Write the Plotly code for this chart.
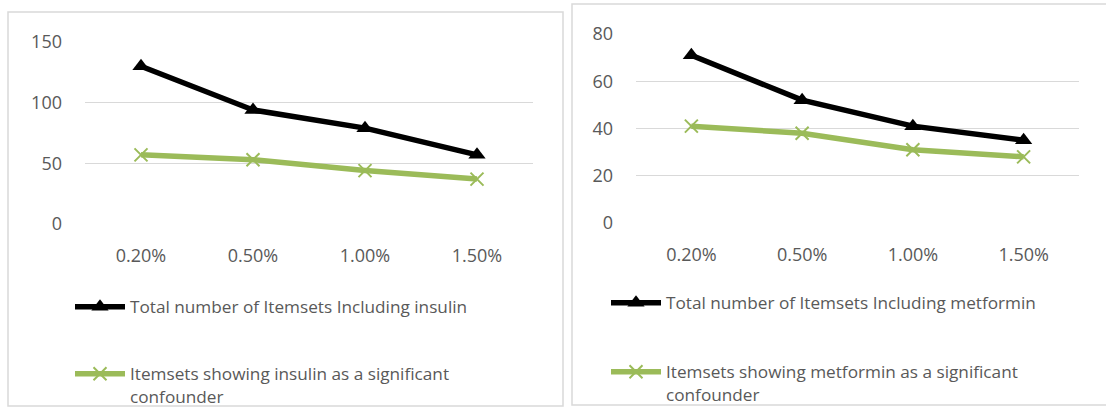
import plotly.graph_objects as go

categories = ["0.20%", "0.50%", "1.00%", "1.50%"]

insulin_total = [130, 94, 79, 57]
insulin_confounder = [57, 53, 44, 37]
metformin_total = [71, 52, 41, 35]
metformin_confounder = [41, 38, 31, 28]

left_names = ["Total number of Itemsets Including insulin",
              "Itemsets showing insulin as a significant<br>confounder"]
right_names = ["Total number of Itemsets Including metformin",
               "Itemsets showing metformin as a significant<br>confounder"]

W, H = 1106, 410
BLACK = "#000000"
GREEN = "#9BBB59"
GRID = "#D9D9D9"
TEXT = "#595959"
FONT = "Open Sans"

def px(x):
    return x / W

def py(y):
    return 1 - y / H

fig = go.Figure()

def add_pair(xaxis, yaxis, total, conf, names, lg1, lg2):
    fig.add_trace(go.Scatter(
        x=categories, y=total, name=names[0], mode="lines+markers",
        xaxis=xaxis, yaxis=yaxis, legend=lg1, cliponaxis=False,
        line=dict(color=BLACK, width=5.5),
        marker=dict(symbol="triangle-up", size=15, color=BLACK),
    ))
    fig.add_trace(go.Scatter(
        x=categories, y=conf, name=names[1], mode="lines+markers",
        xaxis=xaxis, yaxis=yaxis, legend=lg2, cliponaxis=False,
        line=dict(color=GREEN, width=5.5),
        marker=dict(symbol="x-thin", size=13, color=GREEN,
                    line=dict(color=GREEN, width=2)),
    ))

add_pair("x", "y", insulin_total, insulin_confounder, left_names, "legend", "legend2")
add_pair("x2", "y2", metformin_total, metformin_confounder, right_names, "legend3", "legend4")

axis_font = dict(family=FONT, size=18, color=TEXT)
xcommon = dict(type="category", range=[-0.5, 3.5], showgrid=False,
               zeroline=False, showline=False, ticks="", tickfont=axis_font,
               ticklabelstandoff=19, automargin=False)
ycommon = dict(showgrid=True, gridcolor=GRID, gridwidth=1.3, zeroline=False,
               showline=False, ticks="", tickfont=axis_font, ticklabelstandoff=22,
               automargin=False)

fig.update_layout(
    width=W, height=H, autosize=False,
    margin=dict(l=0, r=0, t=0, b=0, autoexpand=False),
    paper_bgcolor="white", plot_bgcolor="white",
    font=dict(family=FONT, color=TEXT),
    xaxis=dict(domain=[px(85), px(533)], anchor="y", **xcommon),
    yaxis=dict(domain=[py(224), py(42)], anchor="x", range=[0, 150],
               dtick=50, **ycommon),
    xaxis2=dict(domain=[px(636), px(1079)], anchor="y2", **xcommon),
    yaxis2=dict(domain=[py(223), py(34)], anchor="x2", range=[0, 80],
                dtick=20, **ycommon),
    showlegend=True,
)

leg_common = dict(font=dict(family=FONT, size=17.2, color=TEXT),
                  bgcolor="rgba(0,0,0,0)", borderwidth=0, itemwidth=50,
                  xanchor="left", yanchor="top", valign="top",
                  xref="container", yref="container",
                  orientation="v", itemclick=False, itemdoubleclick=False)
fig.update_layout(
    legend=dict(x=px(70), y=py(289), **leg_common),
    legend2=dict(x=px(70), y=py(356), **leg_common),
    legend3=dict(x=px(606), y=py(285), **leg_common),
    legend4=dict(x=px(606), y=py(354), **leg_common),
)

# chart borders
fig.add_shape(type="rect", xref="paper", yref="paper",
              x0=px(8), x1=px(563), y0=py(406), y1=py(12),
              line=dict(color=GRID, width=1.5), layer="below")
fig.add_shape(type="rect", xref="paper", yref="paper",
              x0=px(572), x1=px(1112), y0=py(405), y1=py(4),
              line=dict(color=GRID, width=1.5), layer="below")

fig.write_html(
    "out.html",
    config={"displayModeBar": False, "responsive": False},
    default_width="1106px", default_height="410px",
    post_script="document.body.style.margin='0';document.body.style.overflow='hidden';",
)
